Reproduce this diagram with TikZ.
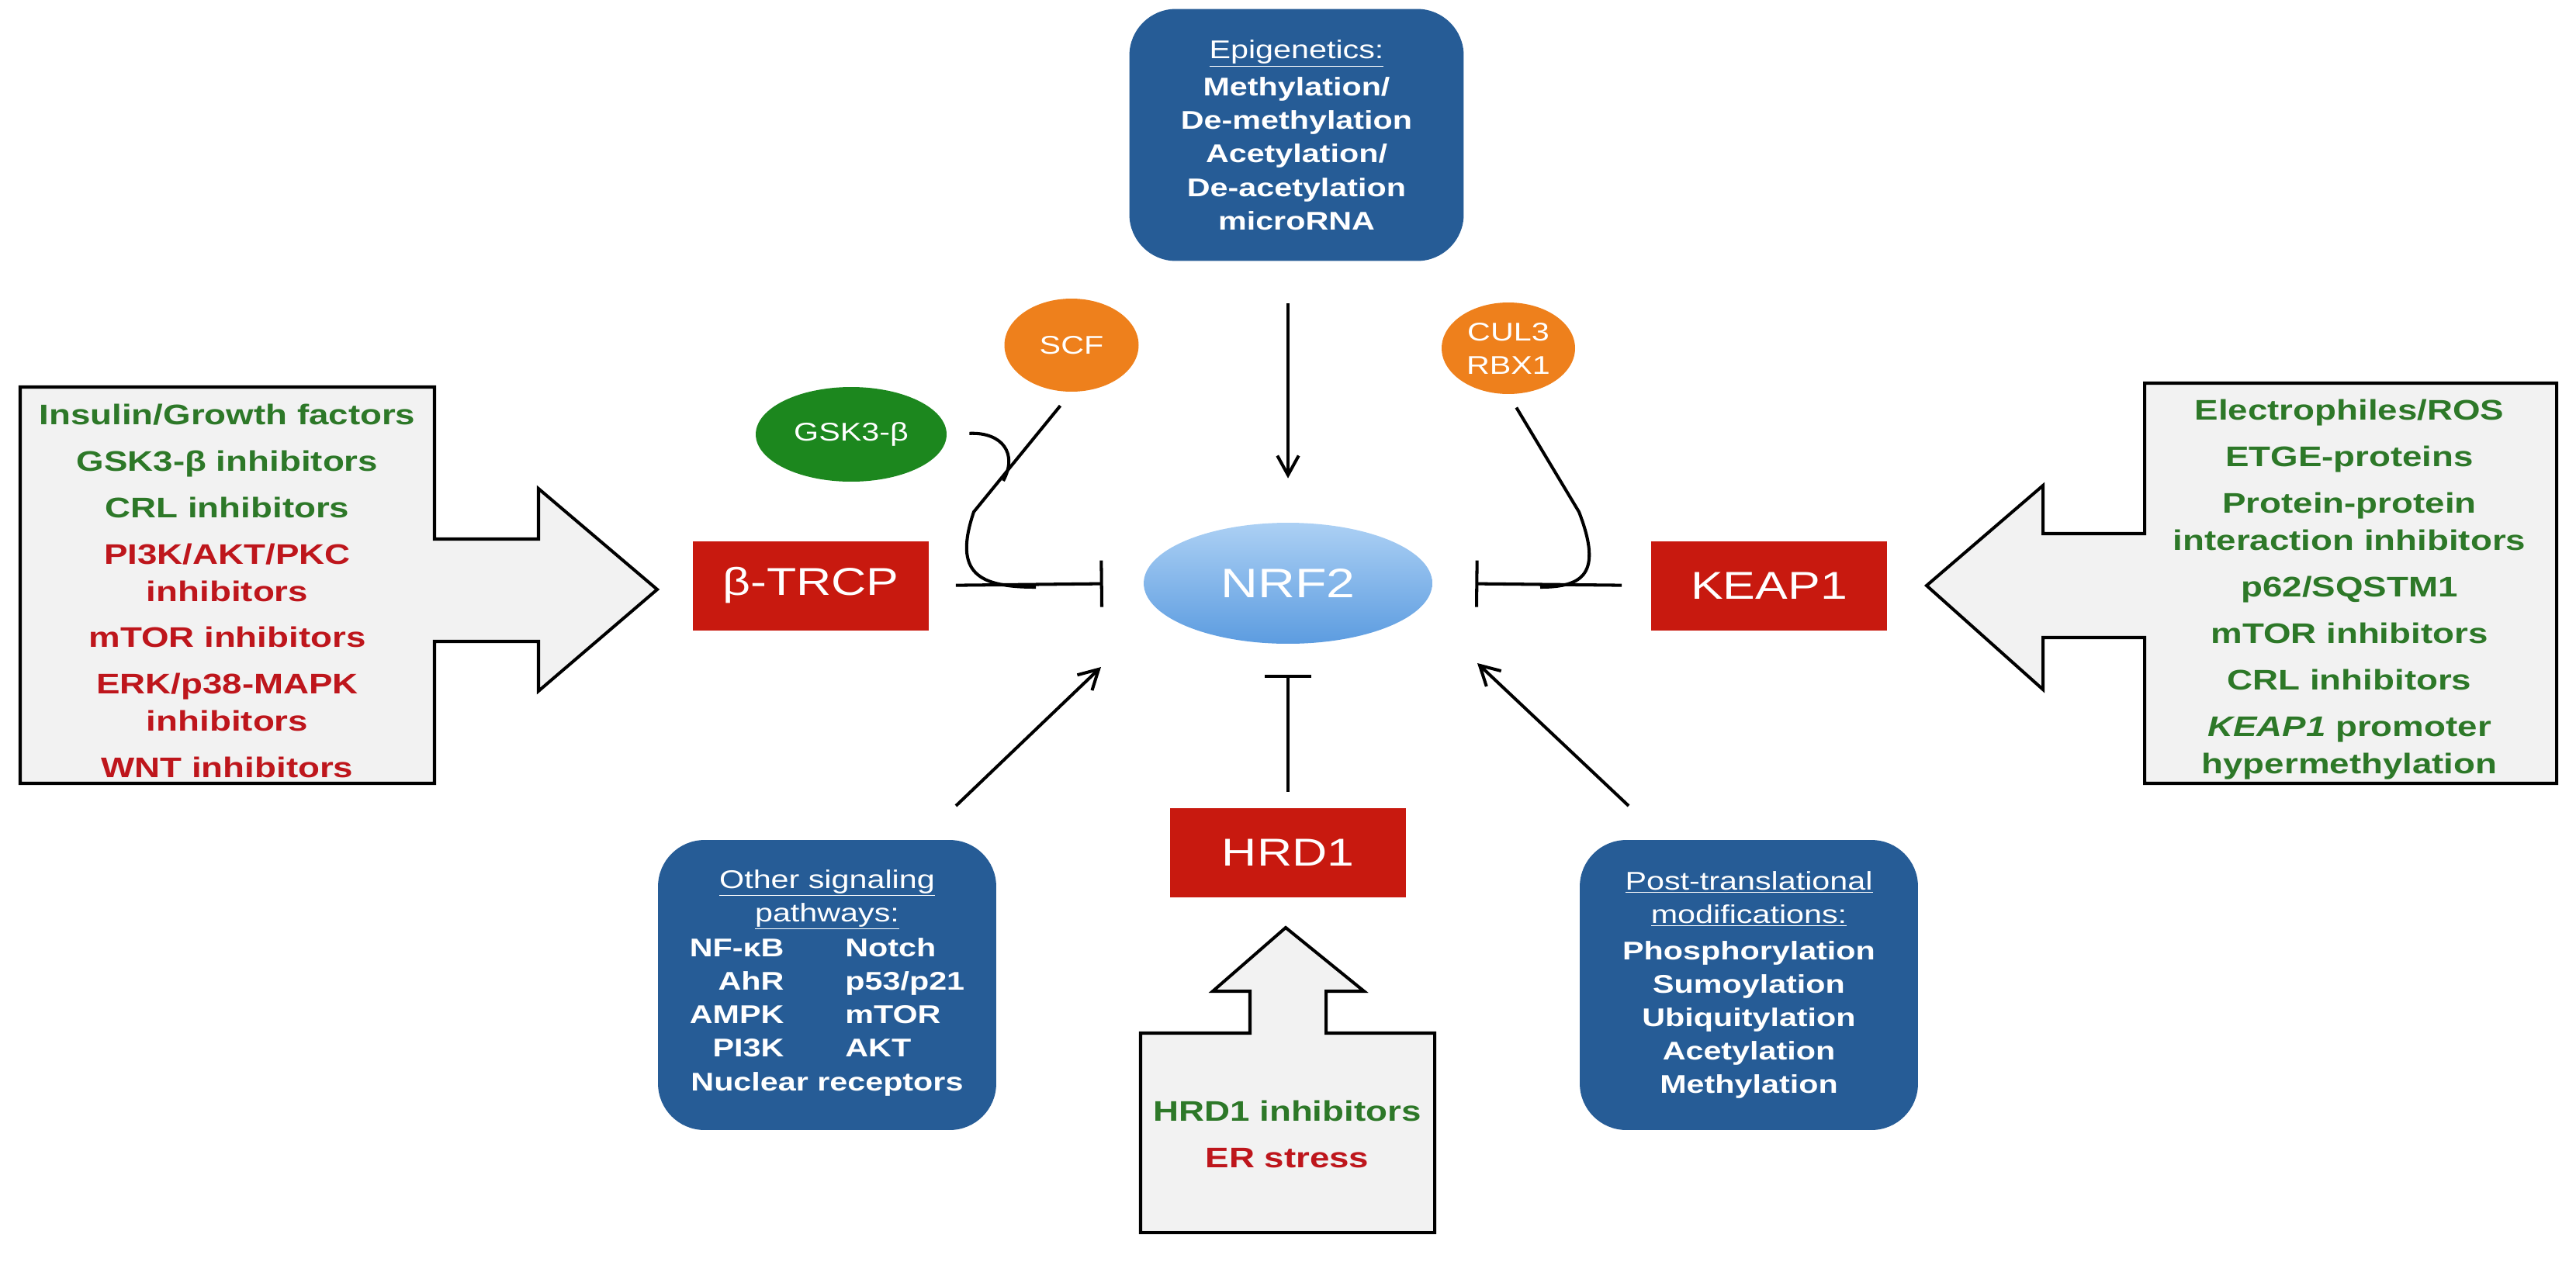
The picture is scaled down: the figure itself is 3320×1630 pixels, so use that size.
\documentclass[tikz,border=0pt]{standalone}
\usepackage{fontspec}
\setmainfont{Liberation Sans}[FakeStretch=1.25]
\usetikzlibrary{arrows.meta,shapes.geometric}
\definecolor{bbox}{RGB}{38,92,150}
\definecolor{rbox}{RGB}{200,25,15}
\definecolor{orng}{RGB}{238,128,28}
\definecolor{gell}{RGB}{28,135,30}
\definecolor{gtxt}{RGB}{45,120,40}
\definecolor{rtxt}{RGB}{190,22,28}
\definecolor{cfill}{RGB}{242,242,242}
\definecolor{nlight}{RGB}{172,208,244}
\definecolor{ndark}{RGB}{92,156,224}
\begin{document}
\begin{tikzpicture}[x=0.02cm,y=-0.02cm,
  ln/.style={line width=2.3pt,black},
  arr/.style={ln,-{Straight Barb[length=0.5cm,width=0.55cm,line width=2.3pt]}},
  inh/.style={ln,-{Bar[width=1.2cm,line width=2.3pt]}},
  callout/.style={line width=2.3pt,draw=black,fill=cfill,line join=miter},
  calltext/.style={align=center,font=\fontsize{20.8}{27.3}\selectfont\bfseries},
  bluebox/.style={fill=bbox,rounded corners=1.2cm,text=white,align=center,
    font=\fontsize{18.8}{24.5}\selectfont,inner sep=0pt},
  redbox/.style={fill=rbox,text=white,minimum width=6.1cm,minimum height=2.3cm,
    inner sep=0pt,font=\fontsize{28.5}{30}\selectfont},
  ell/.style={ellipse,inner sep=0pt,text=white,align=center,font=\fontsize{18.8}{24.5}\selectfont}
]
\useasboundingbox (0,0) rectangle (3320,1630);
% callouts
\draw[callout] (26,499) -- (560,499) -- (560,695) -- (694,695) -- (694,630) -- (847,760)
  -- (694,891) -- (694,827) -- (560,827) -- (560,1010) -- (26,1010) -- cycle;
\node[calltext] (lt) at (293,762) {\textcolor{gtxt}{Insulin/Growth factors}\\[6.8pt]
 \textcolor{gtxt}{GSK3-β inhibitors}\\[6.8pt]
 \textcolor{gtxt}{CRL inhibitors}\\[6.8pt]
 \textcolor{rtxt}{PI3K/AKT/PKC}\\ \textcolor{rtxt}{inhibitors}\\[6.8pt]
 \textcolor{rtxt}{mTOR inhibitors}\\[6.8pt]
 \textcolor{rtxt}{ERK/p38-MAPK}\\ \textcolor{rtxt}{inhibitors}\\[6.8pt]
 \textcolor{rtxt}{WNT inhibitors}};
\draw[callout] (3295,494) -- (2764,494) -- (2764,688) -- (2633,688) -- (2633,626) -- (2483,755)
  -- (2633,889) -- (2633,822) -- (2764,822) -- (2764,1010) -- (3295,1010) -- cycle;
\node[calltext,text=gtxt] (rt) at (3028,760) {Electrophiles/ROS\\[6.8pt]
 ETGE-proteins\\[6.8pt]
 Protein-protein\\ interaction inhibitors\\[6.8pt]
 p62/SQSTM1\\[6.8pt]
 mTOR inhibitors\\[6.8pt]
 CRL inhibitors\\[6.8pt]
 \textit{KEAP1} promoter\\ hypermethylation};
\draw[callout] (1470,1589) -- (1470,1332) -- (1611,1332) -- (1611,1278) -- (1563,1278) -- (1657,1196)
  -- (1758,1278) -- (1709,1278) -- (1709,1332) -- (1849,1332) -- (1849,1589) -- cycle;
\node[calltext] (bt) at (1659,1462) {\textcolor{gtxt}{HRD1 inhibitors}\\[6.8pt]\textcolor{rtxt}{ER stress}};
% blue boxes
\node[bluebox,minimum width=8.62cm,minimum height=6.5cm] (epi) at (1671,174)
 {\underline{Epigenetics:}\\[3pt]\bfseries Methylation/\\\bfseries De-methylation\\\bfseries Acetylation/\\\bfseries De-acetylation\\\bfseries microRNA};
\node[bluebox,minimum width=8.72cm,minimum height=7.48cm] (oth) at (1066,1270)
 {\underline{Other signaling}\\\underline{pathways:}\\[2pt]
 {\bfseries\begin{tabular}{@{}r@{\hspace{1.58cm}}l@{}}NF-κB & Notch\\ AhR & p53/p21\\ AMPK & mTOR\\ PI3K & AKT\\
 \multicolumn{2}{@{}c@{}}{Nuclear receptors}\end{tabular}}};
\node[bluebox,minimum width=8.72cm,minimum height=7.48cm] (ptm) at (2254,1270)
 {\underline{Post-translational}\\\underline{modifications:}\\[2pt]\bfseries Phosphorylation\\\bfseries Sumoylation\\\bfseries Ubiquitylation\\\bfseries Acetylation\\\bfseries Methylation};
% red boxes
\node[redbox] (btr) at (1045,755) {β-TRCP};
\node[redbox] (keap) at (2280,755) {KEAP1};
\node[redbox] (hrd) at (1660,1099) {HRD1};
% ellipses
\node[ell,minimum width=7.44cm,minimum height=3.12cm,top color=nlight,bottom color=ndark,
  font=\fontsize{30.2}{32}\selectfont] (nrf) at (1660,752) {NRF2};
\node[ell,fill=gell,minimum width=4.92cm,minimum height=2.44cm] (gsk) at (1097,560) {GSK3-β};
\node[ell,fill=orng,minimum width=3.46cm,minimum height=2.4cm] (scf) at (1381,445) {SCF};
\node[ell,fill=orng,minimum width=3.44cm,minimum height=2.36cm] (cul) at (1944,449) {CUL3\\RBX1};
% connectors
\draw[arr,shorten <=1.08cm,shorten >=1.14cm] (epi.south -| nrf.north) -- (nrf.north);
\draw[inh,shorten <=0.68cm,shorten >=1.04cm] (btr.east) -- (nrf.west);
\draw[inh,shorten <=0.74cm,shorten >=1.1cm] (keap.west) -- (nrf.east);
\draw[inh,shorten <=0.4cm,shorten >=0.8cm] (hrd.north) -- (nrf.south);
\draw[ln,shorten <=0.46cm] (scf.south) -- (1255,660) .. controls (1228,740) and (1262,757) .. (1335,757);
\draw[ln,shorten <=0.58cm] (gsk.east) .. controls (1292,557) and (1312,585) .. (1293,620);
\draw[ln,shorten <=0.4cm] (cul.south) -- (2035,660) .. controls (2066,740) and (2040,757) .. (1985,757);
\coordinate (o1) at (1232,1039);
\coordinate (o2) at (1419,860);
\coordinate (p1) at (2099,1039);
\coordinate (p2) at (1904,855);
\draw[arr] (o1) -- (o2);
\draw[arr] (p1) -- (p2);
\end{tikzpicture}
\end{document}
